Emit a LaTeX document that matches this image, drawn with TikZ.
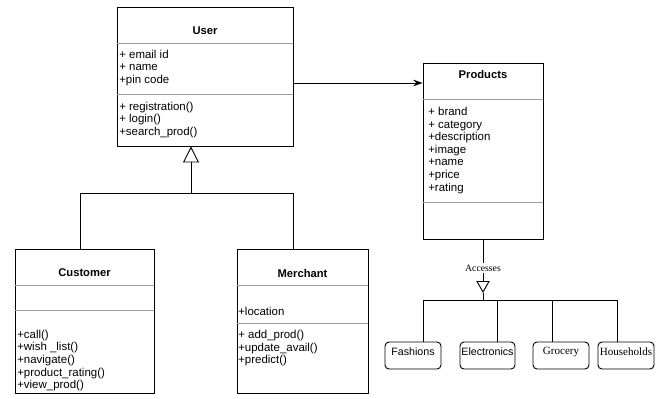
\documentclass[tikz,border=0pt]{standalone}
\usepackage{fontspec}
\setmainfont{Liberation Sans}
\newfontfamily\timesfont{Liberation Serif}
\usetikzlibrary{fit,arrows.meta}

\begin{document}
\begin{tikzpicture}[x=0.75pt, y=-0.75pt,
  classbox/.style={draw, line width=0.7pt, inner sep=0pt},
  classtitle/.style={font=\fontsize{8.4}{10}\selectfont\bfseries},
  members/.style={font=\fontsize{8.6}{9.4}\selectfont, align=left, anchor=west, inner sep=0pt},
  divider/.style={draw=gray!75, line width=0.6pt},
  catbox/.style={draw, line width=0.7pt, rounded corners=3pt, inner sep=0pt},
  link/.style={draw, line width=0.7pt}]

  % Fix the size of the picture
  \useasboundingbox (0,0) rectangle (664,399);

  % Class User
  \node[classbox, fit={(117,7) (293,146)}] (user) {};
  \node[classtitle] (usertitle) at (205,31) {User};
  \draw[divider] (user.west |- 0,43) -- (user.east |- 0,43);
  \node[members] (userattr) at (119,68) {+ email id\\+ name\\+pin code};
  \draw[divider] (user.west |- 0,94) -- (user.east |- 0,94);
  \node[members] (userops) at (119,120) {+ registration()\\+ login()\\+search\_prod()};

  % Class Products
  \node[classbox, fit={(423,63) (543,239)}] (products) {};
  \node[classtitle] (prodtitle) at (483,74) {Products};
  \draw[divider] (products.west |- 0,99) -- (products.east |- 0,99);
  \node[members] (prodattr) at (428,150.5)
    {+ brand\\+ category\\+description\\+image\\+name\\+price\\+rating};
  \draw[divider] (products.west |- 0,202) -- (products.east |- 0,202);

  % Class Customer
  \node[classbox, fit={(15,249) (154,393)}] (customer) {};
  \node[classtitle] (custtitle) at (84.5,273) {Customer};
  \draw[divider] (customer.west |- 0,285) -- (customer.east |- 0,285);
  \draw[divider] (customer.west |- 0,310) -- (customer.east |- 0,310);
  \node[members] (custops) at (17,360.5)
    {+call()\\+wish \_list()\\+navigate()\\+product\_rating()\\+view\_prod()};

  % Class Merchant
  \node[classbox, fit={(237,249) (368,393)}] (merchant) {};
  \node[classtitle] (merchtitle) at (302.5,273) {Merchant};
  \draw[divider] (merchant.west |- 0,285) -- (merchant.east |- 0,285);
  \node[members] (merchattr) at (238,311) {+location};
  \draw[divider] (merchant.west |- 0,323) -- (merchant.east |- 0,323);
  \node[members] (merchops) at (238,348.5)
    {+ add\_prod()\\+update\_avail()\\+predict()};

  % Product categories
  \node[catbox, fit={(385,342) (441,369)}, font=\fontsize{8}{10}\selectfont] (fashions) {Fashions};
  \node[catbox, fit={(460,342) (515,369)}, font=\fontsize{8}{10}\selectfont] (electronics) {Electronics};
  \node[catbox, fit={(533,342) (589,369)}, font=\timesfont\fontsize{8.3}{10}\selectfont] (grocery) {Grocery};
  \node[catbox, fit={(598,342) (654,369)}, font=\timesfont\fontsize{8.3}{10}\selectfont] (households) {Households};

  % Association from User to Products
  \draw[link, -{Stealth[length=7pt, width=5pt]}] (user.east |- 0,83) -- (products.west |- 0,83);

  % Generalization of Customer and Merchant
  \coordinate (gen) at (191,193);
  \draw[link, -{Triangle[open, length=12pt, width=12pt]}] (gen) -- (gen |- user.south);
  \draw[link] (customer.north -| 80,0) |- (293,193) -- (merchant.north -| 293,0);

  % Products accesses the categories
  \coordinate (acc) at (483,293);
  \coordinate (bus) at (483,300);
  \draw[link, -{Triangle[open, length=9pt, width=10pt]}] (products.south -| acc) -- (acc);
  \node[fill=white, inner sep=1pt, font=\timesfont\fontsize{7.3}{8}\selectfont] (accesses) at (483,268) {Accesses};
  \draw[link] (acc) -- (bus);
  \draw[link] (fashions.north -| 423,0) |- (617,300) -- (households.north -| 617,0);
  \draw[link] (electronics.north -| 497,0) -- (497,300);
  \draw[link] (grocery.north -| 552,0) -- (552,300);

\end{tikzpicture}
\end{document}
